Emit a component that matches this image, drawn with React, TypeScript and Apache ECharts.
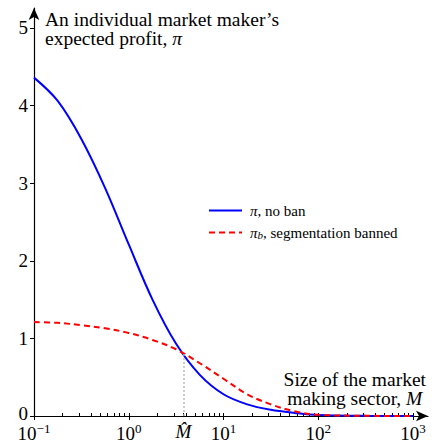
import React, { useEffect, useRef } from "react";
import * as echarts from "echarts";

// Size of the market making sector, M (log scale)
const sectorSize = [0.1, 0.178, 0.316, 0.562, 1, 1.78, 3.16, 5.62, 10, 17.8, 31.6, 56.2, 100, 316, 1000];
// Expected profit of an individual market maker, no ban
const profitNoBan = [4.36, 4.06, 3.57, 2.94, 2.21, 1.5, 0.93, 0.53, 0.28, 0.15, 0.08, 0.04, 0.012, 0.003, 0.0];
// Expected profit when segmentation is banned
const profitBanned = [1.21, 1.2, 1.17, 1.13, 1.07, 0.98, 0.86, 0.68, 0.48, 0.28, 0.15, 0.06, 0.015, 0.003, 0.0];

// Threshold sector size where both curves meet
const mHat = 3.77;
const mHatProfit = 0.8;

const xMajorTicks = [0.1, 1, 10, 100, 1000];
const yTicks = [0, 1, 2, 3, 4, 5];

const FONT = "'Liberation Serif', 'Times New Roman', serif";

export default function App() {
  const ref = useRef<HTMLDivElement>(null);

  useEffect(() => {
    if (!ref.current) return;
    const chart = echarts.init(ref.current, undefined, { renderer: "svg" });

    const minorTicks: number[] = [];
    for (let d = 0; d < xMajorTicks.length - 1; d++) {
      for (let k = 2; k <= 9; k++) minorTicks.push(+(xMajorTicks[d] * k).toPrecision(3));
    }

    const pairs = (ys: number[]) => sectorSize.map((m, i) => [m, ys[i]]);

    const supLabel = (v: number) => {
      const e = Math.log10(v);
      if (Math.abs(e - Math.round(e)) > 1e-6) return "{m|M\u0302}";
      const r = Math.round(e);
      return "{n|10}{s|" + (r < 0 ? "\u2212" + -r : String(r)) + "}";
    };

    chart.setOption({
      animation: false,
      textStyle: { fontFamily: FONT },
      grid: { left: 34, right: 4, top: 8, bottom: 26.5, containLabel: false },
      xAxis: [
        {
          type: "log",
          logBase: 10,
          min: 0.1,
          max: 1439,
          axisLine: {
            show: true,
            symbol: ["none", "arrow"],
            symbolSize: [8, 12],
            lineStyle: { color: "#000", width: 1.2 },
          },
          axisTick: { show: true, customValues: xMajorTicks, length: 4, inside: false, lineStyle: { color: "#000" } },
          axisLabel: {
            customValues: [...xMajorTicks, mHat],
            formatter: supLabel,
            margin: 6,
            color: "#000",
            fontFamily: FONT,
            rich: {
              n: { fontSize: 19, fontFamily: FONT, color: "#000", verticalAlign: "bottom" },
              s: { fontSize: 13, fontFamily: FONT, color: "#000", verticalAlign: "top", padding: [0, 0, 8, 0] },
              m: { fontSize: 19, fontFamily: FONT, fontStyle: "italic", color: "#000" },
            },
          },
          splitLine: { show: false },
          minorTick: { show: false },
        },
        {
          type: "log",
          logBase: 10,
          min: 0.1,
          max: 1439,
          position: "bottom",
          axisLine: { show: false },
          axisTick: {
            show: true,
            customValues: [...minorTicks, ...xMajorTicks, mHat],
            length: 3,
            inside: true,
            lineStyle: { color: "#000" },
          },
          axisLabel: { show: false },
          splitLine: { show: false },
        },
      ],
      yAxis: {
        type: "value",
        min: 0,
        max: 5.257,
        axisLine: {
          show: true,
          symbol: ["none", "arrow"],
          symbolSize: [8, 12],
          lineStyle: { color: "#000", width: 1.2 },
        },
        axisTick: { show: true, customValues: yTicks, length: 4, lineStyle: { color: "#000" } },
        axisLabel: {
          customValues: yTicks,
          fontSize: 19,
          fontFamily: FONT,
          color: "#000",
          margin: 6,
          verticalAlign: "middle",
          formatter: (v: number) => (v === 0 ? "{z|0}" : String(v)),
          rich: { z: { fontSize: 19, fontFamily: FONT, color: "#000", padding: [0, 0, 5, 0] } },
        },
        splitLine: { show: false },
      },
      legend: {
        orient: "vertical",
        left: 203,
        top: 198,
        itemWidth: 33,
        itemHeight: 14,
        itemGap: 7,
        itemStyle: { opacity: 0, borderWidth: 0 },
        data: ["noBan", "banned"],
        formatter: (name: string) =>
          name === "noBan" ? "{i|\u03c0}, no ban" : "{i|\u03c0}{b|b}, segmentation banned",
        textStyle: {
          fontSize: 15,
          fontFamily: FONT,
          color: "#000",
          padding: [0, 0, 0, 3],
          rich: {
            i: { fontSize: 15, fontFamily: FONT, fontStyle: "italic", color: "#000" },
            b: { fontSize: 11, fontFamily: FONT, fontStyle: "italic", color: "#000", verticalAlign: "bottom", padding: [5, 0, 0, 0] },
          },
        },
      },
      series: [
        {
          name: "noBan",
          type: "line",
          data: pairs(profitNoBan),
          smooth: 0.35,
          showSymbol: false,
          symbol: "none",
          lineStyle: { color: "#0000ff", width: 2 },
          itemStyle: { color: "#0000ff" },
          z: 3,
          markLine: {
            silent: true,
            symbol: "none",
            label: { show: false },
            lineStyle: { color: "#bdbdbd", type: [2, 2], width: 1.5 },
            data: [[{ coord: [mHat, 0] }, { coord: [mHat, mHatProfit] }]],
          },
        },
        {
          name: "banned",
          type: "line",
          data: pairs(profitBanned),
          smooth: 0.35,
          showSymbol: false,
          symbol: "none",
          lineStyle: { color: "#ff0000", width: 2, type: [6, 4] },
          itemStyle: { color: "#ff0000" },
          z: 4,
        },
      ],
      graphic: [
        {
          type: "text",
          left: 45,
          top: 9,
          style: {
            text: "{r|An individual market maker\u2019s}\n{r|expected profit, }{i|\u03c0}",
            rich: {
              r: { fontSize: 19.5, fontFamily: FONT, fill: "#000", lineHeight: 19 },
              i: { fontSize: 19.5, fontFamily: FONT, fontStyle: "italic", fill: "#000", lineHeight: 19 },
            },
          },
        },
        {
          type: "text",
          right: 6,
          top: 369,
          style: {
            text: "{r|Size of the market}\n{r|making sector, }{i|M}",
            align: "right",
            rich: {
              r: { fontSize: 19.5, fontFamily: FONT, fill: "#000", lineHeight: 19, align: "right" },
              i: { fontSize: 19.5, fontFamily: FONT, fontStyle: "italic", fill: "#000", lineHeight: 19 },
            },
          },
        },
      ],
    });

    return () => chart.dispose();
  }, []);

  return (
    <div
      ref={ref}
      style={{ position: "fixed", left: 0, top: 0, width: 432, height: 443, background: "#fff" }}
    />
  );
}
